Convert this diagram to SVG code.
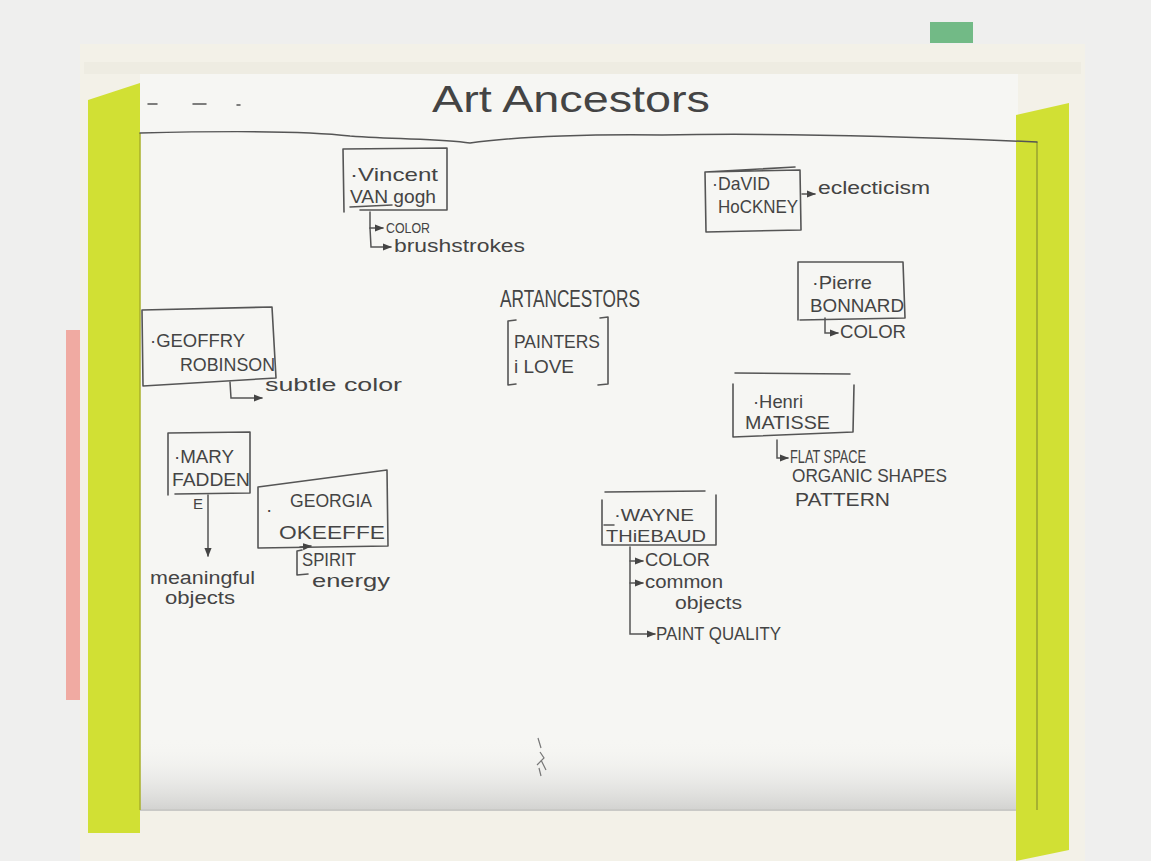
<svg xmlns="http://www.w3.org/2000/svg" width="1151" height="861" viewBox="0 0 1151 861">
<defs>
<style>
.ink{fill:#444;font-family:"Liberation Sans Narrow","Liberation Sans",Arial,sans-serif;}
.box{fill:none;stroke:#555;stroke-width:1.6;stroke-linejoin:round;stroke-linecap:round;}
.ln{fill:none;stroke:#555;stroke-width:1.5;stroke-linecap:round;}
.nm{font-size:19px;}
.at{font-size:18px;}
</style>
<marker id="ah" viewBox="0 0 10 10" refX="9" refY="5" markerWidth="6" markerHeight="6" orient="auto"><path d="M0,1 L10,5 L0,9 Z" fill="#444"/></marker>
<linearGradient id="shade" x1="0" y1="0" x2="0" y2="1">
<stop offset="0" stop-color="#f4f4f2" stop-opacity="0"/>
<stop offset="1" stop-color="#d2d2d0"/>
</linearGradient>
</defs>
<!-- photo background -->
<rect x="0" y="0" width="1151" height="861" fill="#efefee"/>
<rect x="930" y="22" width="43" height="21" fill="#72ba86"/>
<rect x="66" y="330" width="16" height="370" fill="#f0aaa2"/>
<!-- notebook -->
<rect x="80" y="44" width="1005" height="817" fill="#f3f1e8"/>
<rect x="84" y="62" width="997" height="12" fill="#eeece2"/>
<rect x="140" y="74" width="878" height="736" fill="#f6f6f3"/>
<rect x="140" y="740" width="878" height="70" fill="url(#shade)"/>
<line x1="140" y1="810" x2="1018" y2="810" stroke="#c9c9c6" stroke-width="2"/>
<!-- tapes -->
<polygon points="88,100 140,83 140,833 88,833" fill="#d1e034"/>
<polygon points="1016,115 1069,103 1069,850 1016,861" fill="#d1e034"/>
<line x1="140" y1="133" x2="140" y2="810" stroke="#a8b02a" stroke-width="1.5"/>
<line x1="1037" y1="142" x2="1037" y2="810" stroke="#8a9230" stroke-width="1.2"/>
<!-- header -->
<g id="title">
<text class="ink" x="432" y="112" font-size="36" textLength="278" lengthAdjust="spacingAndGlyphs">Art  Ancestors</text>
<line class="ln" x1="148" y1="104" x2="157" y2="104"/>
<line class="ln" x1="193" y1="104" x2="206" y2="104"/>
<line class="ln" x1="237" y1="105" x2="240" y2="105"/>
</g>
<path class="ln" d="M140,133 C220,131 300,130 350,136 C400,140 440,138 470,143 C520,136 600,134 662,135 C760,133 900,136 1037,142"/>
<!-- nodes -->
<g id="vangogh">
<path class="box" d="M344,212 L343,149 L447,148 L447,210 L360,210"/>
<text class="ink nm" x="350" y="181" textLength="88" lengthAdjust="spacingAndGlyphs">·Vincent</text>
<text class="ink nm" x="350" y="203" textLength="86" lengthAdjust="spacingAndGlyphs">VAN gogh</text>
<line class="ln" x1="350" y1="207" x2="392" y2="205"/>
<text class="ink" font-size="15" x="386" y="233" textLength="44" lengthAdjust="spacingAndGlyphs">COLOR</text>
<text class="ink at" x="394" y="252" textLength="131" lengthAdjust="spacingAndGlyphs">brushstrokes</text>
</g>
<g id="hockney">
<path class="box" d="M706,232 L705,172 L795,167 M705,172 L800,170 L801,230 L706,232"/>
<text class="ink nm" x="712" y="190" textLength="58" lengthAdjust="spacingAndGlyphs">·DaVID</text>
<text class="ink nm" x="718" y="213" textLength="80" lengthAdjust="spacingAndGlyphs">HoCKNEY</text>
<text class="ink at" x="818" y="194" textLength="112" lengthAdjust="spacingAndGlyphs">eclecticism</text>
</g>
<g id="center">
<text class="ink" x="500" y="307" font-size="24" textLength="140" lengthAdjust="spacingAndGlyphs">ARTANCESTORS</text>
<path class="box" d="M516,320 L508,321 L508,385 L516,384 M600,318 L608,317 L608,384 L598,385"/>
<text class="ink nm" x="514" y="348" textLength="86" lengthAdjust="spacingAndGlyphs">PAINTERS</text>
<text class="ink nm" x="514" y="373" textLength="60" lengthAdjust="spacingAndGlyphs">i LOVE</text>
</g>
<g id="robinson">
<path class="box" d="M142,310 L272,307 L276,378 L143,386 Z"/>
<text class="ink nm" x="150" y="347" textLength="95" lengthAdjust="spacingAndGlyphs">·GEOFFRY</text>
<text class="ink nm" x="180" y="371" textLength="95" lengthAdjust="spacingAndGlyphs">ROBINSON</text>
<text class="ink at" x="265" y="391" textLength="137" lengthAdjust="spacingAndGlyphs">subtle color</text>
</g>
<g id="bonnard">
<path class="box" d="M798,320 L798,262 L903,262 L905,318 L800,320"/>
<text class="ink nm" x="812" y="289" textLength="60" lengthAdjust="spacingAndGlyphs">·Pierre</text>
<text class="ink nm" x="810" y="312" textLength="94" lengthAdjust="spacingAndGlyphs">BONNARD</text>
<text class="ink at" x="840" y="338" textLength="66" lengthAdjust="spacingAndGlyphs">COLOR</text>
</g>
<g id="matisse">
<line class="ln" x1="735" y1="373" x2="850" y2="374"/>
<path class="box" d="M733,384 L733,437 L853,432 L854,385"/>
<text class="ink nm" x="753" y="408" textLength="50" lengthAdjust="spacingAndGlyphs">·Henri</text>
<text class="ink nm" x="745" y="429" textLength="85" lengthAdjust="spacingAndGlyphs">MATISSE</text>
<text class="ink at" x="790" y="463" textLength="76" lengthAdjust="spacingAndGlyphs">FLAT SPACE</text>
<text class="ink at" x="792" y="482" textLength="155" lengthAdjust="spacingAndGlyphs">ORGANIC SHAPES</text>
<text class="ink at" x="795" y="506" textLength="95" lengthAdjust="spacingAndGlyphs">PATTERN</text>
</g>
<g id="fadden">
<path class="box" d="M168,495 L168,433 L250,432 L250,493 L175,494"/>
<text class="ink nm" x="174" y="463" textLength="60" lengthAdjust="spacingAndGlyphs">·MARY</text>
<text class="ink nm" x="172" y="486" textLength="78" lengthAdjust="spacingAndGlyphs">FADDEN</text>
<text class="ink" font-size="15" x="193" y="509">E</text>
<text class="ink at" x="150" y="584" textLength="105" lengthAdjust="spacingAndGlyphs">meaningful</text>
<text class="ink at" x="165" y="604" textLength="70" lengthAdjust="spacingAndGlyphs">objects</text>
</g>
<g id="okeeffe">
<path class="box" d="M258,487 L258,548 L388,546 L387,470 L258,487"/>
<text class="ink nm" x="266" y="516">·</text>
<text class="ink nm" x="290" y="507" textLength="82" lengthAdjust="spacingAndGlyphs">GEORGIA</text>
<text class="ink nm" x="279" y="539" textLength="106" lengthAdjust="spacingAndGlyphs">OKEEFFE</text>
<path class="box" d="M302,550 L297,551 L297,575 L308,574"/>
<text class="ink at" x="302" y="566" textLength="54" lengthAdjust="spacingAndGlyphs">SPIRIT</text>
<text class="ink at" x="312" y="587" textLength="78" lengthAdjust="spacingAndGlyphs">energy</text>
</g>
<g id="thiebaud">
<line class="ln" x1="605" y1="492" x2="705" y2="491"/>
<path class="box" d="M602,500 L602,545 L716,545 L716,495"/>
<line class="ln" x1="604" y1="525" x2="614" y2="525"/>
<text class="ink" font-size="17" x="614" y="521" textLength="80" lengthAdjust="spacingAndGlyphs">·WAYNE</text>
<text class="ink" font-size="16" x="606" y="542" textLength="100" lengthAdjust="spacingAndGlyphs">THiEBAUD</text>
<text class="ink at" x="645" y="566" textLength="65" lengthAdjust="spacingAndGlyphs">COLOR</text>
<text class="ink at" x="645" y="588" textLength="78" lengthAdjust="spacingAndGlyphs">common</text>
<text class="ink at" x="675" y="609" textLength="67" lengthAdjust="spacingAndGlyphs">objects</text>
<text class="ink at" x="656" y="640" textLength="125" lengthAdjust="spacingAndGlyphs">PAINT QUALITY</text>
</g>
<!-- connectors -->
<g id="connectors">
<path class="ln" d="M370,212 L370,228 L383,228" marker-end="url(#ah)"/>
<path class="ln" d="M370,228 L371,247 L391,247" marker-end="url(#ah)"/>
<path class="ln" d="M802,194 L815,194" marker-end="url(#ah)"/>
<path class="ln" d="M230,382 L231,398 L262,398" marker-end="url(#ah)"/>
<path class="ln" d="M825,318 L825,333 L838,333" marker-end="url(#ah)"/>
<path class="ln" d="M777,440 L777,458 L788,458" marker-end="url(#ah)"/>
<path class="ln" d="M208,495 L208,556" marker-end="url(#ah)"/>
<path class="ln" d="M300,547 L311,546" marker-end="url(#ah)"/>
<path class="ln" d="M630,547 L630,634 L655,634" marker-end="url(#ah)"/>
<path class="ln" d="M630,561 L643,561" marker-end="url(#ah)"/>
<path class="ln" d="M630,583 L643,583" marker-end="url(#ah)"/>
</g>
<path d="M538,738 L541,748 M540,752 L544,758 L537,765 M541,760 L546,770 M539,768 L541,776" stroke="#777" stroke-width="1.2" fill="none"/>
</svg>
